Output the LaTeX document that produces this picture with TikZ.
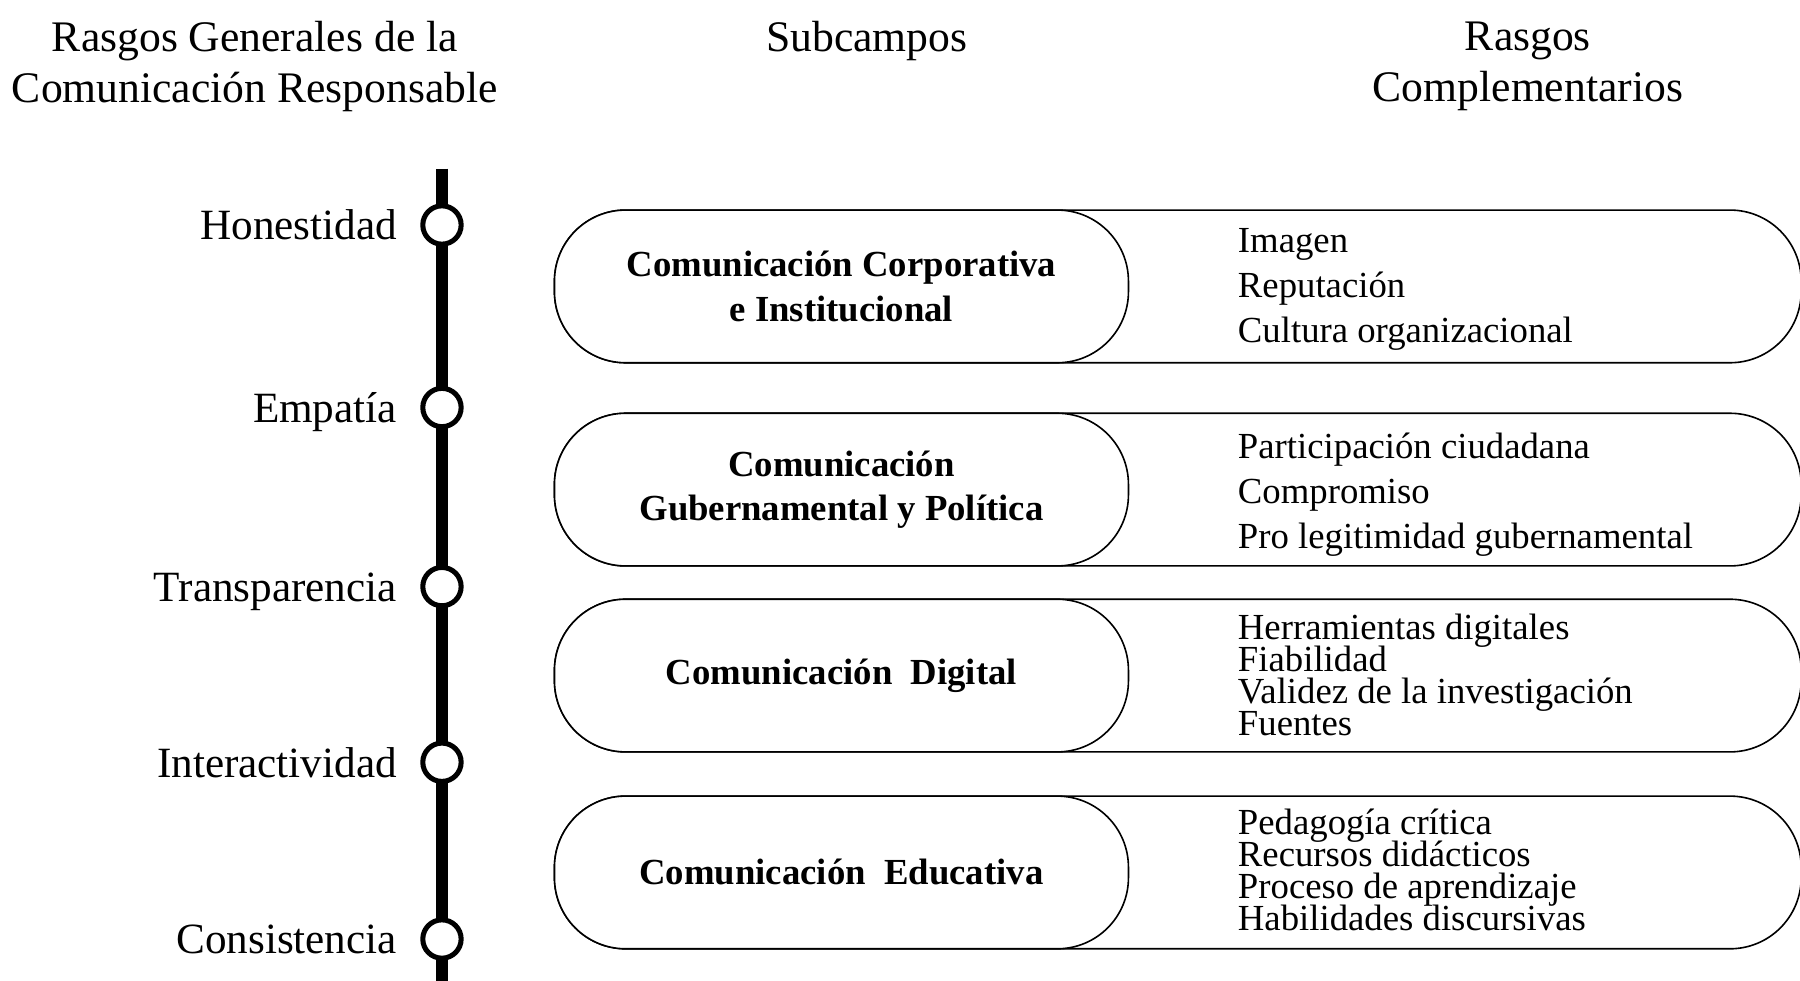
\documentclass[tikz,border=0pt]{standalone}
\usepackage{fontspec}
\setmainfont{Liberation Serif}
\usetikzlibrary{positioning}
% fixed spacing for tight lines
\newcommand\apretado{\lineskiplimit=-100pt\relax}
\tikzset{
    %Define style for pill boxes
    pildora/.style={
           rectangle,
           rounded corners=31pt,
           draw=black, line width=0.7pt,
           fill=white,
           minimum height=66.5pt,
           inner sep=0pt},
    subcampo/.style={pildora,
           minimum width=250pt,
           align=center,
           font=\fontsize{16}{19.5}\selectfont\bfseries},
    externa/.style={pildora, minimum width=543pt},
    % Define style for trait lists
    lista/.style={
           inner sep=0pt,
           align=left,
           font=\fontsize{16}{19.5}\selectfont},
    listajunta/.style={lista, font=\fontsize{16}{14}\selectfont\apretado},
    % Define style for the line marks
    hito/.style={
           circle,
           draw=black, line width=2.2pt,
           fill=white,
           minimum size=16.7pt,
           inner sep=0pt},
    rasgo/.style={inner sep=0pt, font=\fontsize{18.8}{22}\selectfont},
    titulo/.style={inner sep=0pt, align=center, font=\fontsize{19}{22}\selectfont}
}
\begin{document}
\begin{tikzpicture}[x=0.5pt, y=-0.5pt]
 \useasboundingbox (0,0) rectangle (1568,854);
 %titles
 \node[titulo] (tgen) at (222,58) {Rasgos Generales de la\\Comunicación Responsable};
 \node[titulo] (tsub) at (755,36) {Subcampos};
 \node[titulo] (tcom) at (1331,58) {Rasgos\\Complementarios};
 %line
 \coordinate (arriba) at (385,147);
 \coordinate (abajo) at (385,870);
 \draw[line width=5.5pt] (arriba) -- (abajo);
 \node[hito] (hon) at (385,196) {};
 \node[hito] (emp) at (385,355) {};
 \node[hito] (tra) at (385,511) {};
 \node[hito] (int) at (385,664) {};
 \node[hito] (con) at (385,818) {};
 \node[rasgo, left=10pt of hon, anchor=base east, yshift=-6.5pt] {Honestidad};
 \node[rasgo, left=10pt of emp, anchor=base east, yshift=-6.5pt] {Empatía};
 \node[rasgo, left=10pt of tra, anchor=base east, yshift=-6.5pt] {Transparencia};
 \node[rasgo, left=10pt of int, anchor=base east, yshift=-6.5pt] {Interactividad};
 \node[rasgo, left=10pt of con, anchor=base east, yshift=-6.5pt] {Consistencia};
 %pills
 \node[externa] (ext1) at (1026,249.5) {};
 \node[subcampo] (sub1) at (733,249.5) {Comunicación Corporativa\\e Institucional};
 \node[lista, anchor=west] (com1) at (1078,252) {Imagen\\Reputación\\Cultura organizacional};
 \node[externa] (ext2) at (1026,426.5) {};
 \node[subcampo] (sub2) at (733,426.5) {Comunicación\\Gubernamental y Política};
 \node[lista, anchor=west] (com2) at (1078,431) {Participación ciudadana\\Compromiso\\Pro legitimidad gubernamental};
 \node[externa] (ext3) at (1026,588.5) {};
 \node[subcampo] (sub3) at (733,588.5) {Comunicación\ \ Digital};
 \node[listajunta, anchor=west] (com3) at (1078,588) {Herramientas digitales\\Fiabilidad\\Validez de la investigación\\Fuentes};
 \node[externa] (ext4) at (1026,760) {};
 \node[subcampo] (sub4) at (733,760) {Comunicación\ \ Educativa};
 \node[listajunta, anchor=west] (com4) at (1078,758) {Pedagogía crítica\\Recursos didácticos\\Proceso de aprendizaje\\Habilidades discursivas};
\end{tikzpicture}
\end{document}
